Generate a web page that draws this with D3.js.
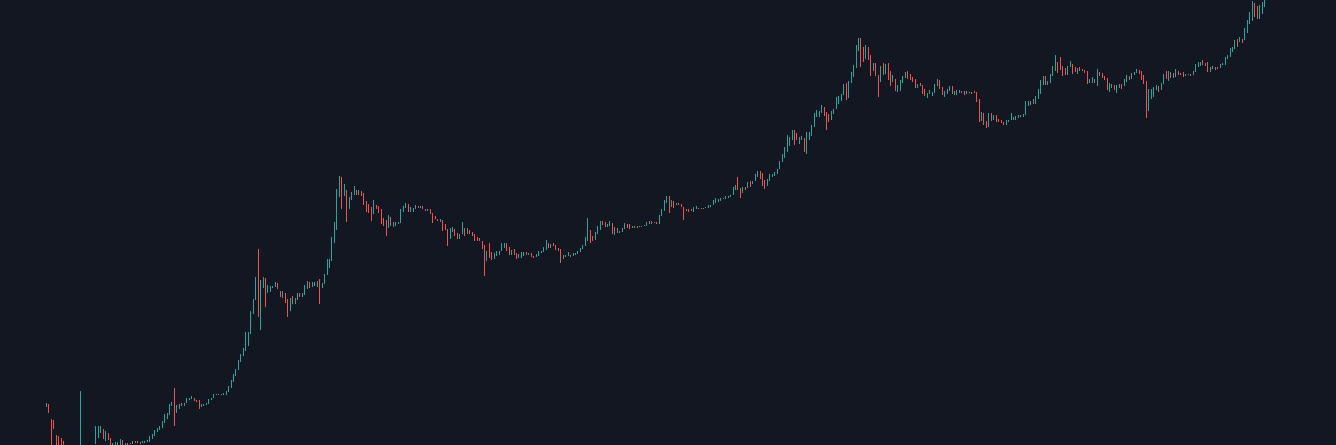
<!DOCTYPE html>
<html>
  <head>
    <meta charset="utf-8">
    <title>BTCUSD weekly</title>
    <script src="https://cdnjs.cloudflare.com/ajax/libs/d3/7.8.5/d3.min.js" charset="utf-8"></script>
    <style>
      html, body { margin: 0; padding: 0; background: #131722; overflow: hidden; }
    </style>
  </head>

  <body>
    <div id="chart"></div>
    <script>

// weekly bars, first monday and first open
var firstWeek = "2011-08-15";
var firstOpen = 10.5;

// [high, low, close] per week, open = previous close
var bars2011 = [[11.3,10.4,11.0],[11.0,9.2,9.4],[8.1,4.2,8.0],[7.9,6.6,6.7],[5.9,4.5,5.0],[5.8,4.6,4.9],[5.5,4.6,4.8],[5.2,4.3,4.5],[4.4,3.8,4.0],[4.0,2.3,3.0],
  [3.3,2.5,3.2],[3.4,2.9,3.0],[3.1,2.7,2.9],[2.9,2.0,2.3],[14.5,2.2,2.5],[3.1,2.5,2.9],[3.1,2.8,3.0],[3.3,3.0,3.2],[4.0,3.2,3.9],[4.6,3.8,4.4]];
var bars2012 = [[7.0,4.9,6.8],[7.0,5.5,6.9],[7.1,6.1,7.0],[6.6,5.4,5.8],[6.3,5.2,6.1],
  [6.1,5.3,5.5],[5.5,4.4,4.5],[5.0,4.3,4.9],[5.1,4.7,4.9],
  [5.1,4.8,4.9],[5.4,4.8,5.3],[5.3,4.6,4.7],[4.95,4.7,4.9],
  [5.0,4.8,4.95],[5.0,4.85,4.93],[5.2,4.9,5.15],[5.2,5.0,5.1],[5.15,4.95,5.0],
  [5.1,4.9,5.05],[5.15,4.95,5.1],[5.15,5.0,5.1],[5.3,5.05,5.25],
  [5.7,5.1,5.45],[6.0,5.4,5.9],[6.5,5.8,6.4],[6.7,6.2,6.6],
  [7.0,6.5,6.8],[7.8,6.7,7.6],[9.0,7.5,8.8],[9.2,8.1,8.9],[11.0,8.9,10.9],
  [11.6,10.6,11.4],[15.4,7.0,10.0],[10.9,9.2,10.6],[11.0,10.0,10.9],
  [11.2,10.6,10.7],[11.3,10.6,11.2],[12.4,11.2,12.2],[12.5,12.0,12.4],
  [12.9,12.2,12.6],[12.6,11.7,11.8],[12.0,11.6,11.7],[11.9,10.0,10.6],[11.0,10.5,10.8],
  [11.1,10.7,10.9],[11.2,10.8,11.0],[12.3,11.0,12.2],[12.6,12.0,12.5],
  [13.6,12.4,13.4],[13.7,13.2,13.5],[13.6,13.2,13.3],[13.6,13.2,13.4],[13.8,13.2,13.6]];
var bars2013 = [[14.3,13.4,14.2],[15.9,14.0,15.6],[18.0,15.4,17.5],[20.4,17.2,20.2],
  [22.5,19.7,22.1],[27.0,22.0,26.9],[31.0,26.3,30.1],[34.5,29.5,33.5],
  [48.0,33.0,46.5],[48.6,36.5,47.0],[74.0,46.5,71.5],[94.0,70.0,93.0],
  [147,93,145],[262,65,95],[140,50,120],[147,118,128],[145,80,112],
  [126,106,117],[123,109,122],[124,118,123],[134,120,128],
  [130,117,119],[112,98,100],[112,96,107],[108,88,90],
  [95,66,76],[97,74,96],[100,86,90],[97,86,94],[107,93,104],
  [107,98,101],[106,98,103],[125,102,120],[136,117,128],
  [135,118,124],[134,122,126],[133,124,126],[136,122,132],[141,85,126],
  [130,118,128],[158,128,154],[215,155,185],[215,180,210],
  [335,205,325],[460,300,440],[900,390,800],[1163,760,1000],
  [1150,600,790],[1000,780,850],[880,455,620],[760,590,740],[840,720,800]];
var bars2014 = [[960,800,860],[880,800,830],[870,790,840],[860,780,810],
  [825,650,680],[700,560,640],[660,550,600],[620,470,560],
  [710,540,635],[650,600,630],[640,550,565],[590,440,460],[500,420,450],
  [480,340,420],[530,400,500],[510,420,430],[460,415,435],
  [455,420,445],[455,435,448],[600,445,575],[630,560,620],
  [670,610,650],[660,560,590],[620,560,595],[610,560,600],[650,590,630],
  [640,610,620],[630,605,625],[630,590,595],[600,570,585],
  [595,575,585],[590,540,545],[545,450,505],[515,490,495],
  [490,470,475],[485,455,475],[480,380,405],[440,385,390],[395,278,330],
  [400,325,390],[410,370,390],[395,345,355],[365,320,325],
  [360,320,355],[460,355,385],[400,345,370],[400,360,380],
  [385,360,370],[370,345,350],[355,310,330],[335,310,316],[330,310,315]];
var bars2015 = [[310,265,275],[285,152,210],[255,205,250],[300,220,230],
  [245,210,225],[240,215,230],[250,228,235],[255,232,250],
  [300,250,275],[298,270,285],[295,255,260],[275,235,250],[260,235,255],
  [262,235,237],[240,215,222],[237,220,225],[245,220,232],
  [246,230,242],[246,234,236],[242,233,238],[241,225,227],
  [230,220,225],[236,222,234],[254,230,244],[250,240,248],[275,245,270],
  [315,260,292],[295,270,275],[292,270,290],[300,280,282],
  [285,260,262],[270,255,260],[265,199,228],[235,215,230],[233,225,230],
  [245,228,232],[235,225,230],[240,226,232],[240,234,237],
  [250,238,248],[270,245,268],[285,262,285],[335,282,320],
  [500,310,375],[390,300,330],[340,310,325],[375,315,370],[420,355,390],
  [470,385,455],[470,430,445],[455,410,422],[435,415,430]];
var bars2016 = [[465,425,450],[450,360,385],[410,350,400],[400,365,370],
  [380,365,372],[405,370,400],[445,395,432],[440,405,430],[440,395,410],
  [418,400,415],[420,405,412],[420,405,416],[425,410,418],
  [425,415,420],[430,418,428],[455,425,450],[468,440,445],
  [465,440,460],[460,445,455],[460,435,442],[530,440,525],[590,520,575],
  [715,570,700],[780,670,760],[770,550,660],[710,620,680],
  [700,610,650],[680,645,665],[680,650,655],[665,620,625],
  [625,480,590],[600,575,585],[590,565,580],[590,570,575],[615,565,605],
  [630,600,610],[612,600,608],[612,595,603],[612,598,610],
  [620,605,615],[645,610,640],[650,625,648],[720,645,700],[740,680,705],
  [725,690,705],[750,695,740],[750,725,730],[775,725,765],
  [775,745,770],[795,765,790],[935,790,900],[975,880,960]];
var bars2017 = [[1153,880,905],[910,750,820],[930,820,920],[925,880,915],[1025,915,1010],
  [1060,940,995],[1060,985,1050],[1210,1050,1150],[1290,1140,1270],
  [1290,1100,1230],[1250,950,1000],[1070,900,960],[1100,950,1080],
  [1210,1050,1180],[1210,1150,1180],[1260,1170,1250],[1350,1230,1340],
  [1600,1350,1550],[1850,1550,1730],[2100,1700,2050],[2700,1900,2200],[2580,2150,2500],
  [2980,2450,2950],[3000,2200,2550],[2800,2450,2500],[2600,2250,2500],
  [2650,2450,2500],[2550,1900,1970],[2900,1830,2750],[2870,2450,2850],[3350,2650,3250],
  [4200,3200,4050],[4480,3900,4100],[4400,3900,4350],[4980,4250,4600],
  [4750,4000,4200],[4350,2970,3700],[4150,3500,3650],[4400,3650,4400],
  [4620,4150,4600],[5850,4600,5700],[6000,5100,6000],[6200,5450,6150],[7600,6100,7400],
  [7900,5500,5800],[8200,5800,8000],[9750,7900,9700],[11400,8900,10850],
  [17200,10600,15100],[19666,15000,19100],[19600,10800,14000],[16500,12000,13800]];
var bars2018 = [[17200,12800,14200],[16300,12600,13700],[13900,9000,11500],[11900,10000,11700],[11800,9000,9300],
  [9300,5900,8200],[11200,8000,10400],[11800,9300,9600],[11600,9400,11400],
  [11700,8300,9100],[9950,7300,8200],[9200,8000,8400],[8500,6600,6800],
  [7500,6500,6900],[8400,6600,8000],[9000,7800,8900],[9750,8600,9400],[9990,8500,8700],
  [9400,8350,8500],[8900,7950,8200],[8500,7050,7350],[7750,7050,7700],
  [7800,7300,7500],[7500,6200,6500],[6900,5950,6150],[6400,5800,6350],
  [6750,6200,6350],[6500,6050,6400],[7650,6350,7400],[8500,7300,8200],[8300,6900,7050],
  [7200,6100,6300],[6600,5900,6400],[6900,6300,6700],[7400,6700,7300],
  [7400,6200,6300],[6600,6150,6500],[6800,6100,6700],[6850,6400,6600],
  [6700,6450,6620],[6700,6150,6300],[6700,6300,6400],[6580,6350,6450],[6520,6300,6420],
  [6600,6350,6400],[6500,5300,5550],[5600,3500,4050],[4350,3600,4100],
  [4200,3300,3550],[3600,3122,3200],[4250,3200,3900],[4250,3600,3850],[4100,3700,4000]];
var bars2019 = [[4100,3500,3550],[3750,3500,3540],[3650,3440,3460],[3520,3350,3420],
  [3700,3350,3650],[3700,3550,3660],[4200,3650,3850],[3900,3700,3860],
  [3950,3700,3900],[4050,3800,4000],[4100,3900,3980],[4150,3900,4100],
  [5400,4100,5050],[5450,4900,5070],[5450,5000,5300],[5650,5100,5200],[5950,5150,5750],
  [7000,5700,6950],[8300,6200,8000],[8950,7500,8650],[9100,7500,8000],
  [8200,7450,8050],[9400,7800,9350],[11200,9000,11000],[13880,10000,11900],
  [12000,9600,11300],[13200,10200,10300],[11100,9100,9800],[10600,9200,9500],[11000,9200,10900],
  [12300,10800,11500],[11600,9400,10250],[10950,9800,10150],[10650,9350,10500],
  [10900,10100,10400],[10450,9950,10300],[10300,9600,9700],[10000,7750,8100],[8550,7800,8150],
  [8900,7850,8300],[8450,7900,8200],[10400,7300,9250],[9900,8950,9200],
  [9550,8650,8800],[9100,8400,8500],[8600,6800,7400],[7850,6500,7450],
  [7750,7100,7500],[7550,6850,6950],[7500,6450,7300],[7650,7050,7400],[7600,6900,7350]];
var bars2020 = [[8450,7350,8100],[9200,8050,8900],[8950,8250,8600],[9600,8550,9350],
  [9900,9150,9850],[10500,9700,9900],[10250,9450,9650],[9950,8400,8550],
  [9200,7650,8000],[8200,3850,5350],[6950,4450,5800],[6950,5700,6400],[7250,5900,6800],
  [7450,6750,7100],[7300,6500,7050],[7800,6800,7700],[9450,7650,8900],
  [10000,8500,8700],[9950,8200,9700],[9900,8700,8900],[9600,8650,9450],
  [10400,8900,9650],[10000,9150,9350],[9650,9200,9300],[9800,8850,9000],[9350,8950,9250],
  [9450,9150,9300],[9350,9050,9200],[10050,9150,9950],[11450,9900,11100],
  [12100,10950,11700],[12100,11100,11800],[12450,11350,11600],[11800,11150,11700],[12050,9900,10300],
  [10800,9900,10500],[11000,10400,10800],[10900,10150,10750],[10950,10400,10600],
  [11450,10550,11350],[11750,11250,11500],[13200,11400,13000],[14000,12800,13750],
  [15950,13300,15500],[16450,14850,15950],[18800,15800,18400],[19400,16200,18200],[19900,18150,19350],
  [19400,17600,19150],[24200,19000,23500],[28400,21900,26300],[33300,26000,32200]];
var bars2021 = [[41950,28000,38200],[40100,30400,35800],[37800,28800,32200],[38500,29200,34200],[40900,32300,38900],[49700,37400,47100]];

var upColor = "#26a69a";
var downColor = "#ef5350";

window.addEventListener("load", run);

function run () {
    var rows = [].concat(bars2011, bars2012, bars2013, bars2014, bars2015, bars2016,
                         bars2017, bars2018, bars2019, bars2020, bars2021);
    var start = d3.utcParse("%Y-%m-%d")(firstWeek);
    var weeks = d3.utcMonday.range(start, d3.utcMonday.offset(start, rows.length));

    var open = firstOpen;
    var data = rows.map(function(r, i) {
        var d = {date: weeks[i], open: open, high: r[0], low: r[1], close: r[2]};
        open = r[2];
        return d;
    });

    var width = 1336, height = 445;

    var x = d3.scaleUtc()
        .domain([weeks[0], weeks[weeks.length - 1]])
        .range([46, 1264]);

    // log price scale
    var y = d3.scaleLog()
        .domain([4.78, 42770])
        .range([height, 0]);

    var svg = d3.select("#chart").append("svg")
        .attr("width", width)
        .attr("height", height)
        .style("display", "block")
        .style("background", "#131722");

    svg.append("g")
        .attr("shape-rendering", "crispEdges")
        .selectAll("rect")
        .data(data)
        .enter().append("rect")
        .attr("x", function(d) { return Math.round(x(d.date)); })
        .attr("y", function(d) { return Math.round(y(d.high)); })
        .attr("width", 1)
        .attr("height", function(d) {
            return Math.max(1, Math.round(y(d.low)) - Math.round(y(d.high)));
        })
        .attr("fill", function(d) { return d.close >= d.open ? upColor : downColor; });
}

    </script>
  </body>
</html>
